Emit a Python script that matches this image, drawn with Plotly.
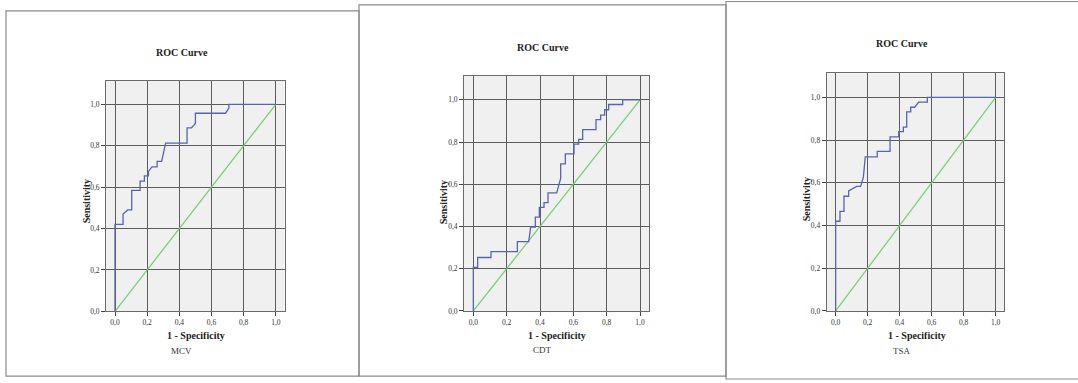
import plotly.graph_objects as go

# ---------------- data ----------------
panel_names = ["MCV", "CDT", "TSA"]
chart_title = "ROC Curve"
x_title = "1 - Specificity"
y_title = "Sensitivity"

tick_vals = [0.0, 0.2, 0.4, 0.6, 0.8, 1.0]
tick_text = ["0,0", "0,2", "0,4", "0,6", "0,8", "1,0"]

ref_x = [0.0, 1.0]
ref_y = [0.0, 1.0]

mcv_fpr = [0, 0, 0.05, 0.05, 0.079, 0.104, 0.104, 0.156, 0.156, 0.183, 0.183, 0.208, 0.208,
           0.23, 0.262, 0.262, 0.29, 0.315, 0.448, 0.448, 0.475, 0.5, 0.5, 0.6875, 0.708, 0.708, 1.0]
mcv_tpr = [0, 0.42, 0.42, 0.47, 0.49, 0.49, 0.584, 0.584, 0.629, 0.629, 0.654, 0.654, 0.676,
           0.698, 0.698, 0.724, 0.724, 0.813, 0.813, 0.886, 0.886, 0.908, 0.957, 0.957, 0.981, 1.0, 1.0]

cdt_fpr = [0, 0, 0.026, 0.026, 0.106, 0.106, 0.264, 0.264, 0.332, 0.344, 0.372, 0.372, 0.396,
           0.396, 0.424, 0.424, 0.448, 0.448, 0.5, 0.524, 0.524, 0.552, 0.552, 0.604, 0.604, 0.632,
           0.632, 0.656, 0.656, 0.736, 0.736, 0.764, 0.764, 0.788, 0.788, 0.812, 0.812, 0.896, 0.896, 1.0]
cdt_tpr = [0, 0.206, 0.206, 0.253, 0.253, 0.281, 0.281, 0.328, 0.328, 0.397, 0.397, 0.444, 0.444,
           0.49, 0.49, 0.5125, 0.5125, 0.559, 0.559, 0.628, 0.697, 0.697, 0.744, 0.744, 0.79, 0.79,
           0.8125, 0.8125, 0.859, 0.859, 0.906, 0.906, 0.928, 0.928, 0.953, 0.953, 0.978, 0.978, 1.0, 1.0]

tsa_fpr = [0, 0, 0.027, 0.027, 0.052, 0.052, 0.081, 0.081, 0.131, 0.156, 0.173, 0.185, 0.26, 0.26,
           0.34, 0.34, 0.394, 0.394, 0.423, 0.423, 0.444, 0.444, 0.469, 0.469, 0.494, 0.519, 0.573, 0.573, 1.0]
tsa_tpr = [0, 0.42, 0.42, 0.466, 0.466, 0.537, 0.537, 0.562, 0.583, 0.583, 0.625, 0.722, 0.722, 0.747,
           0.747, 0.815, 0.815, 0.84, 0.84, 0.861, 0.861, 0.932, 0.932, 0.954, 0.954, 0.978, 0.978, 1.0, 1.0]

curves = [(mcv_fpr, mcv_tpr), (cdt_fpr, cdt_tpr), (tsa_fpr, tsa_tpr)]

# ---------------- layout geometry (pixels) ----------------
W, H = 1078, 383
plot_boxes = [  # left, right, top, bottom
    (106, 284.5, 82, 315.5),
    (464, 649, 77, 315),
    (826.7, 1004.3, 74.3, 315),
]
frames = [  # left, right, top, bottom
    (6, 359, 11, 381),
    (359, 726, 5, 381),
    (726, 1080, 1.5, 384),
]
title_pos = [(182, 53), (543, 48), (902, 44)]
ylab_pos = [(86, 204), (443, 205), (806, 202)]
xlab_pos = [(196, 340), (557, 340), (917, 340)]
name_pos = [(181, 356), (542, 355), (902, 356)]

def px(x):
    return x / W

def py(y):
    return 1 - y / H

fig = go.Figure()
layout_axes = {}
annotations = []
shapes = []

for i, ((fx, fy), name) in enumerate(zip(curves, panel_names)):
    sfx = "" if i == 0 else str(i + 1)
    xa, ya = "x" + sfx, "y" + sfx
    fig.add_trace(go.Scatter(x=ref_x, y=ref_y, mode="lines", xaxis=xa, yaxis=ya,
                             line=dict(color="#6fcf6f", width=1.2), showlegend=False,
                             hoverinfo="skip"))
    fig.add_trace(go.Scatter(x=fx, y=fy, mode="lines", xaxis=xa, yaxis=ya,
                             line=dict(color="#5565b0", width=1.3), showlegend=False))
    l, r, t, b = plot_boxes[i]
    common = dict(tickvals=tick_vals, ticktext=tick_text, showgrid=True,
                  gridcolor="#5c5c5c", gridwidth=1.3, ticks="outside", ticklen=4,
                  tickcolor="#444", tickwidth=1, showline=True, mirror=True,
                  linecolor="#6a6a6a", linewidth=1, zeroline=False,
                  tickfont=dict(family="Liberation Serif", size=7.5, color="#333"),
                  fixedrange=True)
    layout_axes["xaxis" + sfx] = dict(common, domain=[px(l), px(r)], range=[-0.056, 1.054],
                                      anchor=ya)
    layout_axes["yaxis" + sfx] = dict(common, domain=[py(b), py(t)], range=[0, 1.113],
                                      anchor=xa)
    # frame
    fl, fr, ft, fb = frames[i]
    shapes.append(dict(type="rect", xref="paper", yref="paper", x0=px(fl), x1=px(fr),
                       y0=py(fb), y1=py(ft), line=dict(color="#8a8a8a", width=1.2),
                       layer="below"))
    ann_common = dict(xref="paper", yref="paper", showarrow=False,
                      xanchor="center", yanchor="middle")
    tx, ty = title_pos[i]
    annotations.append(dict(ann_common, text="<b>" + chart_title + "</b>", x=px(tx), y=py(ty),
                            font=dict(family="Liberation Serif", size=10, color="#222")))
    lx, ly = ylab_pos[i]
    annotations.append(dict(ann_common, text="<b>" + y_title + "</b>", x=px(lx), y=py(ly),
                            textangle=-90,
                            font=dict(family="Liberation Serif", size=10, color="#222")))
    lx, ly = xlab_pos[i]
    annotations.append(dict(ann_common, text="<b>" + x_title + "</b>", x=px(lx), y=py(ly),
                            font=dict(family="Liberation Serif", size=10, color="#222")))
    lx, ly = name_pos[i]
    annotations.append(dict(ann_common, text=name, x=px(lx), y=py(ly),
                            font=dict(family="Liberation Serif", size=9, color="#333")))

fig.update_layout(
    width=W, height=H, margin=dict(l=0, r=0, t=0, b=0),
    paper_bgcolor="white", plot_bgcolor="#f0f0f0",
    annotations=annotations, shapes=shapes, showlegend=False,
    **layout_axes,
)

fig.write_html("out.html", config={"displayModeBar": False},
               post_script="document.body.style.margin='0';document.body.style.overflow='hidden';")
